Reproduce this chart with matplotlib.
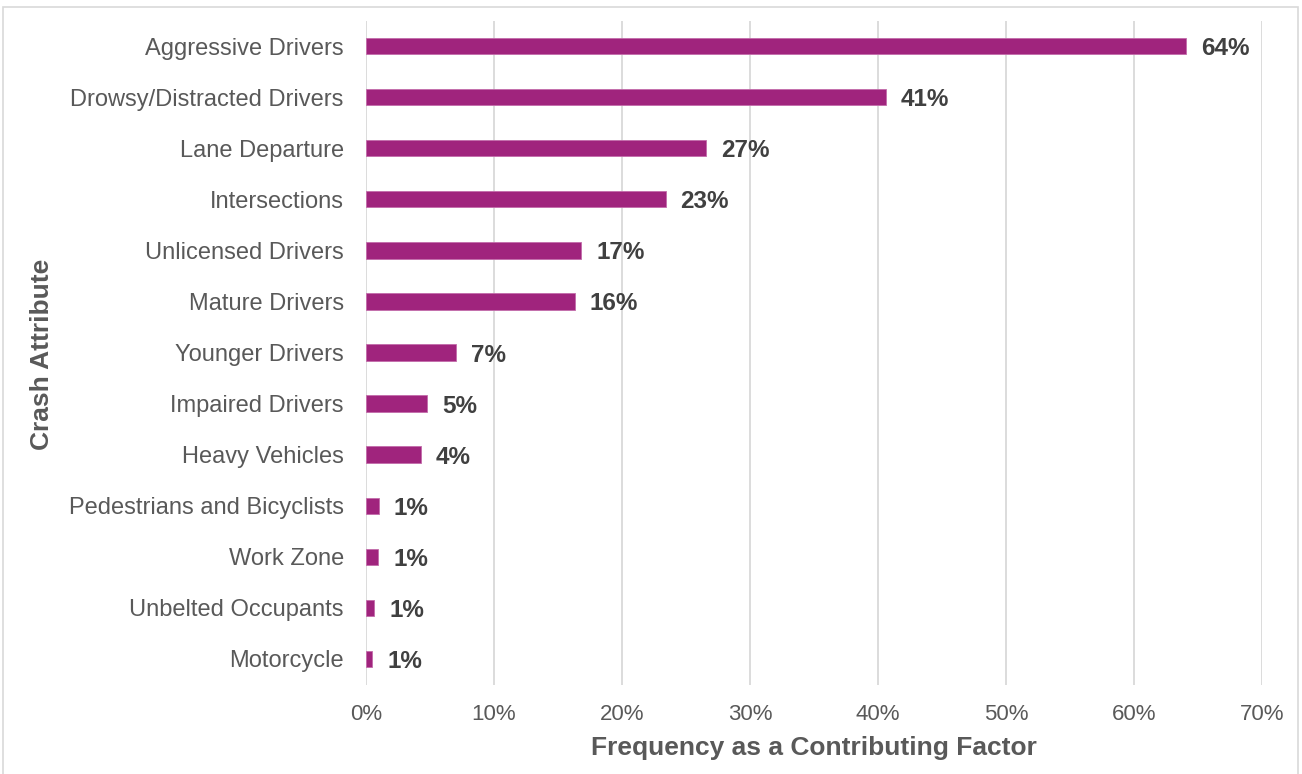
import matplotlib.pyplot as plt
from matplotlib.patches import Rectangle
from matplotlib.ticker import PercentFormatter

plt.rcParams['font.family'] = ['Liberation Sans', 'DejaVu Sans']

# crash attributes, top to bottom as shown
attributes = ['Aggressive Drivers', 'Drowsy/Distracted Drivers', 'Lane Departure',
              'Intersections', 'Unlicensed Drivers', 'Mature Drivers', 'Younger Drivers',
              'Impaired Drivers', 'Heavy Vehicles', 'Pedestrians and Bicyclists',
              'Work Zone', 'Unbelted Occupants', 'Motorcycle']
# frequency as contributing factor (%)
freq = [64.1, 40.6, 26.6, 23.4, 16.8, 16.3, 7.0, 4.8, 4.3, 1.0, 0.95, 0.65, 0.5]
labels = ['64%', '41%', '27%', '23%', '17%', '16%', '7%', '5%', '4%', '1%', '1%', '1%', '1%']

bar_color = '#A0247D'
txt_color = '#404040'
tick_color = '#595959'

fig = plt.figure(figsize=(13.02, 7.74), dpi=100)
ax = fig.add_axes([366/1302, 1-684.5/774, 896/1302, 664/774])

ypos = list(range(len(attributes)))
ax.barh(ypos, freq, height=0.32, color=bar_color, edgecolor='#C36BAA', linewidth=0.6, zorder=3)
ax.set_ylim(len(attributes)-0.5, -0.5)
ax.set_xlim(0, 70)
ax.set_yticks(ypos)
ax.set_yticklabels(attributes, fontsize=17, color=tick_color)
ax.set_xticks(range(0, 71, 10))
ax.xaxis.set_major_formatter(PercentFormatter(decimals=0))
ax.tick_params(axis='x', labelsize=16, labelcolor=tick_color, length=0, pad=14)
ax.tick_params(axis='y', length=0, pad=16)
ax.grid(axis='x', color='#D9D9D9', linewidth=1.3, zorder=0)
for s in ax.spines.values():
    s.set_visible(False)

for y, v, lab in zip(ypos, freq, labels):
    ax.annotate(lab, (v, y), xytext=(15, 0), textcoords='offset pixels',
                va='center_baseline', ha='left', fontsize=17.5, fontweight='bold', color=txt_color)

ax.set_xlabel('Frequency as a Contributing Factor', fontsize=19, fontweight='bold',
              color=tick_color, labelpad=8)
fig.text(42/1302, 1-354/774, 'Crash Attribute', rotation=90, fontsize=19, fontweight='bold',
         color=tick_color, ha='center', va='center')

# outer chart border
fig.patches.append(Rectangle((3/1302, -0.05), 1295/1302, 1.05-7/774, transform=fig.transFigure,
                             fill=False, edgecolor='#D9D9D9', linewidth=1.2))

fig.savefig('out.png', dpi=100)
